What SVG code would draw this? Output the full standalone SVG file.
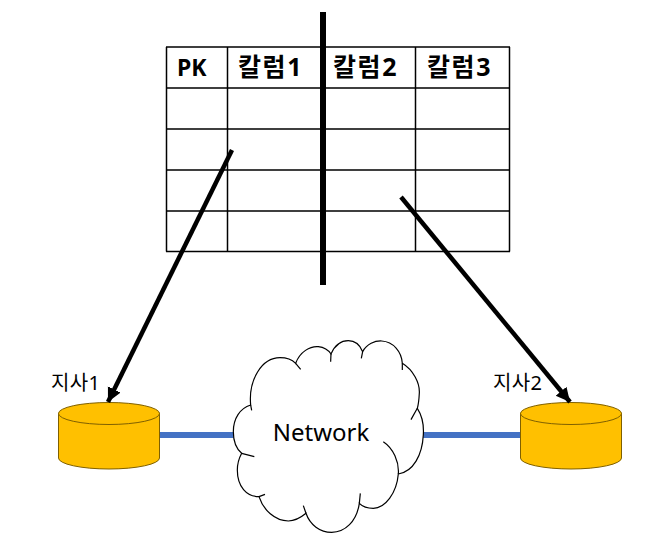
<svg xmlns="http://www.w3.org/2000/svg" width="648" height="552" viewBox="0 0 648 552">
<defs>
<style>
.grid{stroke:#000;stroke-width:1.5;fill:none}
.hdr{font:bold 23px "Noto Sans","Noto Sans CJK KR",sans-serif;fill:#000}
.kr{font-size:25px;letter-spacing:1.6px}
.lbl{font:20px "Noto Sans","Noto Sans CJK KR",sans-serif;fill:#000;letter-spacing:.4px}
.body{fill:#FFC000;stroke:#7F6000;stroke-width:1}
.link{stroke:#4472C4;stroke-width:6;fill:none}
.arrow{stroke:#000;stroke-width:4.500;fill:none;marker-end:url(#ah)}
.cl{fill:#fff;stroke:#000;stroke-width:3.600}
.hook{fill:none;stroke:#000;stroke-width:3.600}
</style>
<marker id="ah" markerUnits="userSpaceOnUse" markerWidth="18" markerHeight="16" refX="14" refY="7" orient="auto"><path d="M0 0L14 7L0 14z" fill="#000"/></marker>
</defs>
<g id="connectors">
<path class="link" d="M160 435H240"/>
<path class="link" d="M415 435H520"/>
</g>
<g id="table">
<path class="grid" d="M166 47H510M166 88H510M166 129H510M166 170H510M166 211H510M166 251.500H510M166.500 47V251.500M227.500 47V251.500M415.500 47V251.500M509.500 47V251.500"/>
<text class="hdr" x="177" y="76">PK</text>
<text class="hdr kr" x="238" y="76">칼럼1</text>
<text class="hdr kr" x="333" y="76">칼럼2</text>
<text class="hdr kr" x="427" y="76">칼럼3</text>
</g>
<rect id="divider" x="320" y="12" width="6" height="273" fill="#000"/>
<g id="branch1">
<path class="body" d="M58.500 413V458A50.500 11 0 0 0 159.500 458V413Z"/>
<ellipse class="body" cx="109" cy="413.500" rx="50.500" ry="11"/>
<text class="lbl" x="51" y="390">지사1</text>
</g>
<g id="branch2">
<path class="body" d="M520.500 413V458A50.500 11 0 0 0 621.500 458V413Z"/>
<ellipse class="body" cx="571" cy="413.500" rx="50.500" ry="11"/>
<text class="lbl" x="493" y="390">지사2</text>
</g>
<g id="network">
<g transform="translate(220 330) scale(.3333)">
<path class="cl" d="M92 225C85 150 125 83 180 83C200 83 215 88 227 100C240 65 270 48 295 50C312 52 325 60 333 72C345 45 365 32 385 32C405 32 420 45 428 65C440 42 465 32 485 33C520 35 545 65 547 100C580 120 600 160 598 190C597 210 595 225 592 235C605 255 612 285 610 315C607 375 580 425 535 432C530 490 495 535 460 535C443 535 428 530 418 520C410 575 375 607 335 607C300 607 270 585 258 550C240 565 225 573 205 573C165 573 130 540 117 500C80 500 52 470 52 420C52 400 57 385 65 370C48 355 40 330 40 305C40 265 60 235 92 225Z"/>
<path class="hook" d="M92 225L95 241M227 100L242 118M333 72L332 95M428 65L424 85M547 100L547 120M592 235L573 269M535 432C538 395 520 355 490 335M418 520L421 490M258 550L250 527M117 500L135 493M65 370L103 380"/>
</g>
<text x="321" y="441" font-family="'Noto Sans','Liberation Sans',sans-serif" font-size="24" fill="#000" text-anchor="middle">Network</text>
</g>
<g id="arrows">
<path class="arrow" d="M232 150L108 402"/>
<path class="arrow" d="M401 197L570 402"/>
</g>
</svg>
